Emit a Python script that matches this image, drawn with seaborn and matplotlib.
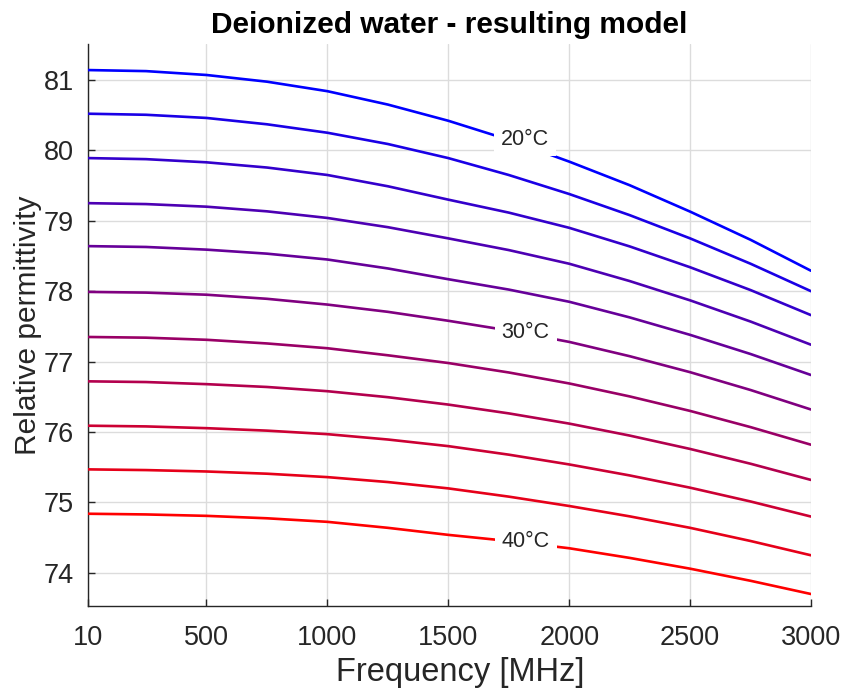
import numpy as np
import pandas as pd
import matplotlib
matplotlib.use("Agg")
import matplotlib.pyplot as plt
import seaborn as sns

# ---- data ----
freq_mhz = [10, 250, 500, 750, 1000, 1250, 1500, 1750, 2000, 2250, 2500, 2750, 3000]
temps_c = [20, 22, 24, 26, 28, 30, 32, 34, 36, 38, 40]
eps_20 = [81.14, 81.125, 81.07, 80.975, 80.84, 80.65, 80.42, 80.15, 79.84, 79.505, 79.13, 78.73, 78.29]
eps_22 = [80.52, 80.505, 80.46, 80.37, 80.25, 80.09, 79.89, 79.65, 79.38, 79.08, 78.75, 78.39, 78.00]
eps_24 = [79.89, 79.875, 79.83, 79.756, 79.65, 79.49, 79.30, 79.116, 78.90, 78.636, 78.34, 78.016, 77.66]
eps_26 = [79.25, 79.237, 79.20, 79.134, 79.04, 78.909, 78.75, 78.584, 78.39, 78.144, 77.87, 77.569, 77.24]
eps_28 = [78.64, 78.628, 78.59, 78.533, 78.45, 78.323, 78.17, 78.023, 77.85, 77.628, 77.38, 77.108, 76.81]
eps_30 = [77.99, 77.98, 77.95, 77.892, 77.81, 77.707, 77.58, 77.442, 77.28, 77.077, 76.85, 76.597, 76.32]
eps_32 = [77.35, 77.34, 77.31, 77.258, 77.19, 77.09, 76.98, 76.846, 76.69, 76.506, 76.30, 76.07, 75.82]
eps_34 = [76.72, 76.71, 76.68, 76.64, 76.58, 76.495, 76.39, 76.265, 76.12, 75.95, 75.76, 75.55, 75.32]
eps_36 = [76.09, 76.08, 76.055, 76.02, 75.97, 75.894, 75.80, 75.679, 75.54, 75.384, 75.21, 75.014, 74.80]
eps_38 = [75.47, 75.46, 75.44, 75.4085, 75.36, 75.29, 75.20, 75.083, 74.95, 74.803, 74.64, 74.453, 74.25]
eps_40 = [74.84, 74.83, 74.81, 74.7755, 74.725, 74.64, 74.54, 74.453, 74.35, 74.213, 74.06, 73.888, 73.70]
series = [eps_20, eps_22, eps_24, eps_26, eps_28, eps_30,
          eps_32, eps_34, eps_36, eps_38, eps_40]

label_text = ["20°C", "30°C", "40°C"]
label_freq = [1817, 1820, 1820]
label_eps = [80.16, 77.41, 74.45]

x_ticks = [10, 500, 1000, 1500, 2000, 2500, 3000]
y_ticks = [74, 75, 76, 77, 78, 79, 80, 81]

# ---- build long table ----
rows = []
for t, vals in zip(temps_c, series):
    for f, v in zip(freq_mhz, vals):
        rows.append({"freq": f, "eps": v, "temp": t})
df = pd.DataFrame(rows)

n = len(temps_c)
palette = {t: (i / (n - 1), 0.0, 1.0 - i / (n - 1)) for i, t in enumerate(temps_c)}

sns.set_style("white")
plt.rcParams["font.family"] = ["Liberation Sans", "DejaVu Sans"]

fig = plt.figure(figsize=(8.48, 6.95), dpi=100)
ax = fig.add_axes([88 / 848, 1 - 606 / 695, (811 - 88) / 848, (606 - 44) / 695])

sns.lineplot(data=df, x="freq", y="eps", hue="temp", palette=palette,
             linewidth=1.9, legend=False, ax=ax, zorder=3)

# inline labels with white background (hides line and grid like clabel)
for lf, le, lt in zip(label_freq, label_eps, label_text):
    ax.text(lf, le, lt, ha="center", va="center", fontsize=15.5,
            color="#262626", zorder=5,
            bbox=dict(facecolor="white", edgecolor="none", pad=5))

ax.set_xlim(10, 3000)
ax.set_ylim(73.53, 81.51)
ax.set_xticks(x_ticks)
ax.set_xticklabels([str(v) for v in x_ticks])
ax.set_yticks(y_ticks)
ax.grid(True, color="#dcdcdc", linewidth=1.0, zorder=0)
ax.set_axisbelow(True)

for s in ["top", "right"]:
    ax.spines[s].set_visible(False)
for s in ["left", "bottom"]:
    ax.spines[s].set_color("#262626")
    ax.spines[s].set_linewidth(1.0)

ax.tick_params(axis="both", direction="in", length=5, width=1.0,
               colors="#262626", labelsize=19.5, pad=10,
               left=True, bottom=True)
ax.tick_params(axis="x", pad=14)

ax.set_xlabel("Frequency [MHz]", fontsize=23.5, color="#262626")
ax.xaxis.set_label_coords(0.5145, -0.09)
ax.set_ylabel("Relative permittivity", fontsize=21.5, color="#262626", labelpad=1)
ax.set_title("Deionized water - resulting model", fontsize=21.5,
             fontweight="bold", color="black", pad=8)

fig.savefig("out.png", dpi=100)
